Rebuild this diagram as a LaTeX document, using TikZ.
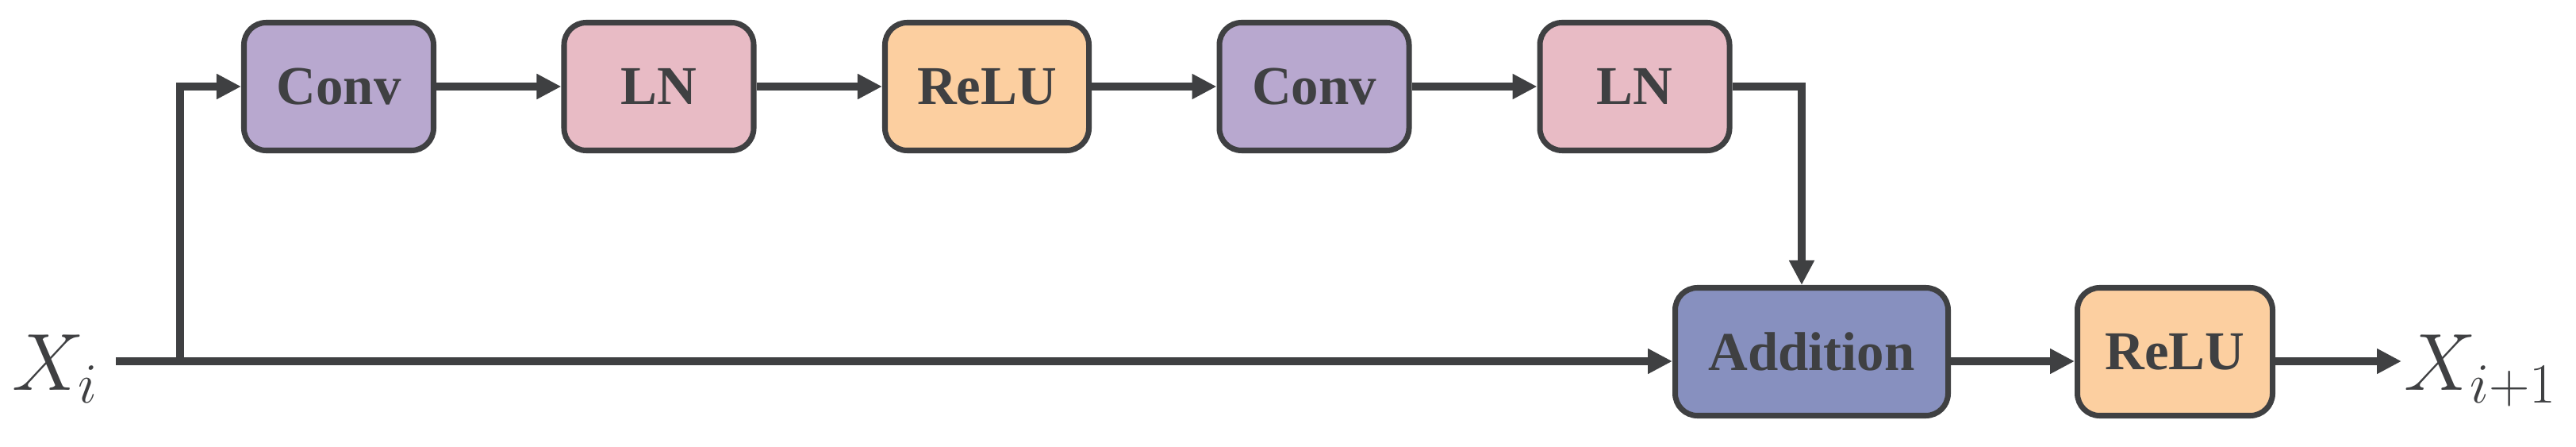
\RequirePackage{fix-cm}
\documentclass[tikz,border=0pt]{standalone}
\usepackage{fontspec}
\setmainfont{Liberation Serif}
\usetikzlibrary{arrows.meta}
\definecolor{edgegray}{HTML}{3F4042}
\definecolor{convfill}{HTML}{B8A8CF}
\definecolor{lnfill}{HTML}{E8BBC5}
\definecolor{relufill}{HTML}{FCCFA0}
\definecolor{addfill}{HTML}{8790BF}
\def\topY{4.54}
\def\botY{1.20}
\def\lineY{1.08}

\begin{document}
\begin{tikzpicture}[
    arrowtip/.style={
      -{Triangle[length=3.1mm,width=3.0mm]}
    },
    flow/.style={
      draw=edgegray, line width=2.8pt, arrowtip
    },
    block/.style={
      draw=edgegray, line width=2pt, rounded corners=2.8mm,
      minimum width=23.9mm, minimum height=16.1mm, inner sep=0pt,
      text=edgegray, font=\fontsize{19.6}{20}\selectfont\bfseries
    },
    signal/.style={
      anchor=base west, inner sep=0pt, text=edgegray,
      font=\fontsize{29}{30}\selectfont
    }
  ]
    \useasboundingbox (0,0) rectangle (32.47,5.63);

    % top row
    \node[block,fill=convfill]                     (ConvA) at (4.27,\topY)   {Conv};
    \node[block,fill=lnfill]                       (LNA)   at (8.305,\topY)  {LN};
    \node[block,fill=relufill,minimum width=25.7mm] (ReLUA) at (12.44,\topY)  {ReLU};
    \node[block,fill=convfill]                     (ConvB) at (16.565,\topY) {Conv};
    \node[block,fill=lnfill]                       (LNB)   at (20.605,\topY) {LN};

    % bottom row
    \node[block,fill=addfill,minimum width=34.4mm]  (Add)   at (22.835,\botY) {Addition};
    \node[block,fill=relufill,minimum width=24.6mm] (ReLUB) at (27.415,\botY) {ReLU};

    % input and output
    \node[signal] (Xin)  at (0.15,0.71)  {$X_i$};
    \node[signal] (Xout) at (30.30,0.71) {$X_{i+1}$};

    \coordinate (InStart) at (1.46,\lineY);
    \coordinate (Fork)    at (2.27,\lineY);
    \coordinate (Turn)    at (22.71,\topY);
    \coordinate (OutEnd)  at (30.27,\lineY);

    % arrows
    \draw[flow] (InStart) -- (InStart -| Add.west);
    \draw[flow] (Fork) |- (ConvA.west);
    \draw[flow] (ConvA) -- (LNA);
    \draw[flow] (LNA)   -- (ReLUA);
    \draw[flow] (ReLUA) -- (ConvB);
    \draw[flow] (ConvB) -- (LNB);
    \draw[flow] (LNB.east) -- (Turn) -- (Turn |- Add.north);

    \draw[flow] (Add.east |- InStart)   -- (ReLUB.west |- InStart);
    \draw[flow] (ReLUB.east |- InStart) -- (OutEnd);
  \end{tikzpicture}
\end{document}
